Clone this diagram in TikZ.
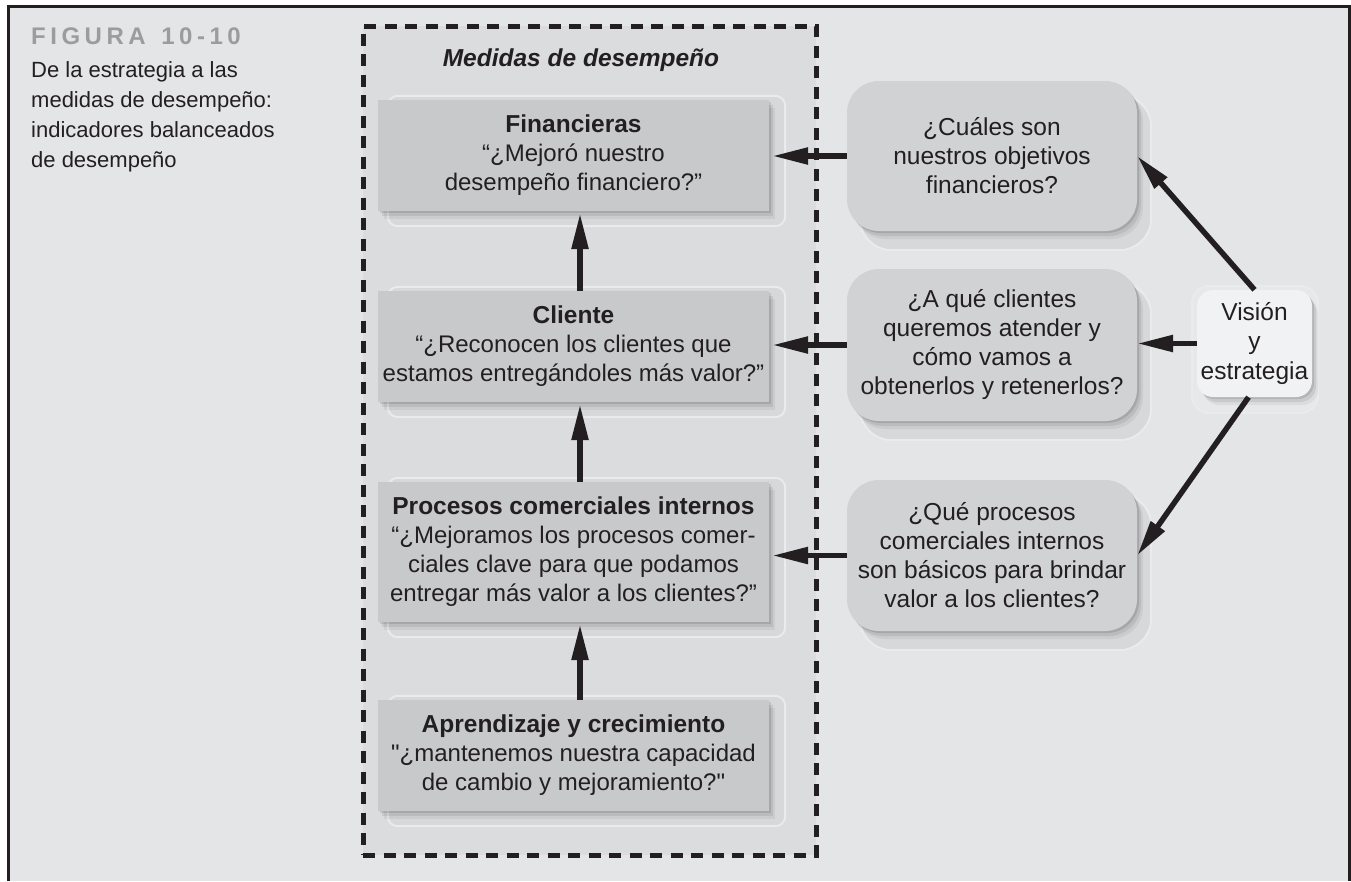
\documentclass[tikz,border=0pt]{standalone}
\usepackage{fontspec}
\setmainfont{Liberation Sans}
\newfontfamily\rawfont{Liberation Sans}
\usetikzlibrary{arrows.meta,shadows,calc}
\definecolor{bg}{HTML}{E4E5E7}
\definecolor{dashbg}{HTML}{DBDCDE}
\definecolor{lboxc}{HTML}{C8C9CB}
\definecolor{rboxc}{HTML}{D1D2D4}
\definecolor{vboxc}{HTML}{F1F2F4}
\definecolor{ink}{HTML}{231F20}
\definecolor{figgray}{HTML}{9B9C9E}
\definecolor{haloc}{HTML}{D7D8DA}
\definecolor{haloedge}{HTML}{EAEBED}
\pgfdeclarelayer{base}
\pgfdeclarelayer{back}
\pgfsetlayers{base,back,main}
\newcommand\figsp{\kern4.5pt}
\newcommand\ttl[1]{{\fontsize{24.5}{29}\selectfont\bfseries #1}}
\newcommand\sq{{\rawfont\char34\relax}}
\begin{document}
\begin{tikzpicture}[x=1pt,y=-1pt,
  txt/.style={text=ink,font=\fontsize{24}{29}\selectfont},
  softshadow/.style={
    drop shadow={shadow xshift=2pt,shadow yshift=-2pt,opacity=.10,fill=black},
    drop shadow={shadow xshift=4pt,shadow yshift=-5pt,opacity=.08,fill=black},
    drop shadow={shadow xshift=6pt,shadow yshift=-8pt,opacity=.05,fill=black}},
  lbox/.style={fill=lboxc, minimum width=391pt, inner sep=0pt, align=center, txt, softshadow},
  rbox/.style={fill=rboxc, rounded corners=32pt, minimum width=290pt, inner sep=0pt, align=center, txt, font=\fontsize{24.5}{29}\selectfont, softshadow},
  vboxs/.style={fill=vboxc, rounded corners=16pt, minimum width=115pt, minimum height=107pt, inner sep=0pt, align=center, txt, font=\fontsize{24.5}{29.5}\selectfont, softshadow},
  halo/.style={fill=haloc, draw=haloedge, line width=2pt},
  arr/.style={line width=5.5pt, draw=ink, -{Triangle[length=36pt,width=16pt]}},
  dashbox/.style={draw=ink, line width=5pt, dash pattern=on 12pt off 8.5pt, fill=dashbg, minimum width=453pt, minimum height=829pt, inner sep=0pt}
]
\useasboundingbox (0,0) rectangle (1351,881);
\begin{pgfonlayer}{base}
\fill[bg] (8,7) rectangle (1350,881);
\draw[line width=3pt,ink] (8.5,881) -- (8.5,6.5) -- (1349.5,6.5) -- (1349.5,881);
\node[dashbox] (mbox) at (589.5,440.5) {};
\end{pgfonlayer}

\node[anchor=base west, inner sep=0pt, text=figgray, font=\fontsize{24}{29}\selectfont\bfseries] (fig) at (31,44)
  {F\figsp I\figsp G\figsp U\figsp R\figsp A\figsp\ \figsp 1\figsp 0\figsp -\figsp 1\figsp 0};
\node[anchor=north west, inner sep=0pt, align=left, text=ink, font=\fontsize{22}{30}\selectfont] (cap) at (31,61)
  {De la estrategia a las\\medidas de desempeño:\\indicadores balanceados\\de desempeño};

\node[txt, font=\fontsize{24.5}{29}\selectfont\bfseries\itshape] (mtitle) at (581,60) {Medidas de desempeño};

\node[lbox, minimum height=111pt] (f) at (573.5,155.5)
  {\ttl{Financieras}\\“¿Mejoró nuestro\\desempeño financiero?”};
\node[lbox, minimum height=111pt] (c) at (573.5,346.5)
  {\ttl{Cliente}\\“¿Reconocen los clientes que\\estamos entregándoles más valor?”};
\node[lbox, minimum height=140pt] (p) at (573.5,552)
  {\ttl{Procesos comerciales internos}\\“¿Mejoramos los procesos comer-\\ciales clave para que podamos\\entregar más valor a los clientes?”};
\node[lbox, minimum height=111pt] (a) at (573.5,755.5)
  {\ttl{Aprendizaje y crecimiento}\\\sq¿mantenemos nuestra capacidad\\de cambio y mejoramiento?\sq};

\node[rbox, minimum height=150pt] (r1) at (992,156) {¿Cuáles son\\nuestros objetivos\\financieros?};
\node[rbox, minimum height=152pt] (r2) at (992,345) {¿A qué clientes\\queremos atender y\\cómo vamos a\\obtenerlos y retenerlos?};
\node[rbox, minimum height=151pt] (r3) at (992,555.5) {¿Qué procesos\\comerciales internos\\son básicos para brindar\\valor a los clientes?};

\node[vboxs] (v) at (1254.5,343.5) {Visión\\y\\estrategia};

\begin{pgfonlayer}{back}
\foreach \n in {f,c,p,a}{
  \draw[halo, rounded corners=10pt] ([xshift=10pt,yshift=4pt]\n.north west) rectangle ([xshift=16pt,yshift=-15pt]\n.south east);
}
\foreach \n in {r1,r2,r3}{
  \draw[halo, rounded corners=32pt] ([xshift=13pt,yshift=-14pt]\n.north west) rectangle ([xshift=14pt,yshift=-19pt]\n.south east);
}
\draw[halo, fill=haloc!60!white, rounded corners=18pt] ([xshift=-5pt,yshift=4pt]v.north west) rectangle ([xshift=6pt,yshift=-16pt]v.south east);
\end{pgfonlayer}

\draw[arr] ([xshift=6.5pt]c.north) -- ([xshift=6.5pt,yshift=-2pt]f.south);
\draw[arr] ([xshift=6.5pt]p.north) -- ([xshift=6.5pt,yshift=-2pt]c.south);
\draw[arr] ([xshift=6.5pt]a.north) -- ([xshift=6.5pt,yshift=-2pt]p.south);

\draw[arr] (r1.west) -- ([xshift=3pt]r1.west -| f.east);
\draw[arr] (r2.west) -- ([xshift=3pt]r2.west -| c.east);
\draw[arr] (r3.west) -- ([xshift=3pt]r3.west -| p.east);

\draw[arr] (v.north) -- (r1.east);
\draw[arr] (v.west) -- (v.west -| r2.east);
\draw[arr] ([xshift=-6pt]v.south) -- (r3.east);
\end{tikzpicture}
\end{document}
